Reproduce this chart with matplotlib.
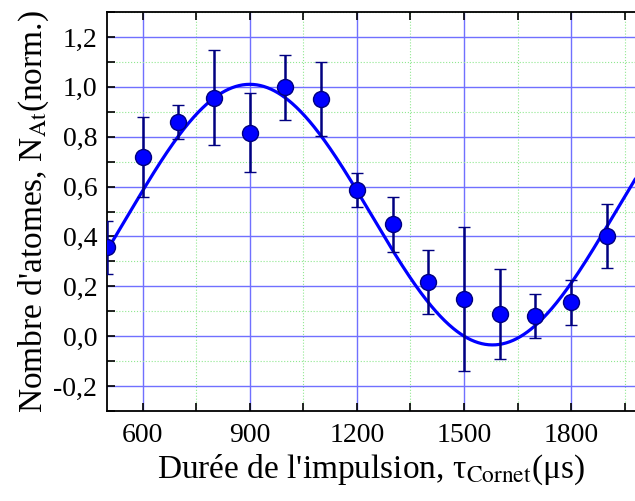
import numpy as np
import matplotlib
matplotlib.use("Agg")
import matplotlib.pyplot as plt
from matplotlib.ticker import MultipleLocator, FuncFormatter

# Data
durations = [500, 600, 700, 800, 900, 1000, 1100, 1200, 1300, 1400, 1500, 1600, 1700, 1800, 1900]
atoms = [0.356, 0.72, 0.86, 0.956, 0.816, 0.998, 0.952, 0.588, 0.448, 0.216, 0.149, 0.089, 0.080, 0.136, 0.401]
errors = [0.105, 0.16, 0.068, 0.19, 0.158, 0.13, 0.148, 0.068, 0.11, 0.128, 0.29, 0.182, 0.089, 0.09, 0.129]

# Sine fit parameters
fit_offset = 0.4875
fit_amplitude = 0.5225
fit_peak = 900.0
fit_period = 1360.0

x_ticks = [600, 900, 1200, 1500, 1800]
y_ticks = [-0.2, 0.0, 0.2, 0.4, 0.6, 0.8, 1.0, 1.2]

plt.rcParams['font.family'] = ['Liberation Serif', 'DejaVu Serif']
plt.rcParams['mathtext.fontset'] = 'stix'

fig = plt.figure(figsize=(6.35, 5.01), dpi=100)
ax = fig.add_axes([107/635, 1-411/501, 1-107/635, (411-12)/501])

xmin, xmax = 500, 1979
ax.set_xlim(xmin, xmax)
ax.set_ylim(-0.3, 1.3)

# grid
ax.xaxis.set_major_locator(MultipleLocator(300))
ax.xaxis.set_minor_locator(MultipleLocator(150))
ax.yaxis.set_major_locator(MultipleLocator(0.2))
ax.yaxis.set_minor_locator(MultipleLocator(0.1))
ax.set_xticks(x_ticks)
ax.set_yticks(y_ticks)
ax.grid(True, which='major', color='#7070ff', lw=1.0, zorder=0)
ax.grid(True, which='minor', color='#90e890', lw=0.8, ls=':', zorder=0)
ax.set_axisbelow(True)

# fit curve
xs = np.linspace(xmin, xmax, 600)
ys = fit_offset + fit_amplitude * np.cos(2*np.pi*(xs - fit_peak)/fit_period)
ax.plot(xs, ys, color='#0000ff', lw=2.3, zorder=3, clip_on=True)

# data points
ax.errorbar(durations, atoms, yerr=errors, fmt='o', color='#000080',
            ecolor='#000080', elinewidth=1.8, capsize=4, capthick=1.8,
            markersize=11.5, markerfacecolor='#0000ff', markeredgecolor='#000080',
            markeredgewidth=1.0, zorder=4, clip_on=True)

fmt = FuncFormatter(lambda v, p: f"{v:.1f}".replace('.', ','))
ax.yaxis.set_major_formatter(fmt)

ax.tick_params(which='both', direction='in', top=True, right=False, width=1.2,
               labelsize=20, length=6, colors='black')
ax.tick_params(axis='x', pad=9)
ax.tick_params(axis='y', pad=7)
for s in ['left', 'bottom', 'top']:
    ax.spines[s].set_linewidth(1.3)
ax.spines['right'].set_visible(False)

ax.set_xlabel("Durée de l'impulsion, τ$_{\\mathrm{Cornet}}$(μs)", fontsize=24, labelpad=3)
ax.set_ylabel("Nombre d'atomes, N$_{\\mathrm{At}}$(norm.)", fontsize=24, labelpad=2)

fig.savefig("out.png", dpi=100)
